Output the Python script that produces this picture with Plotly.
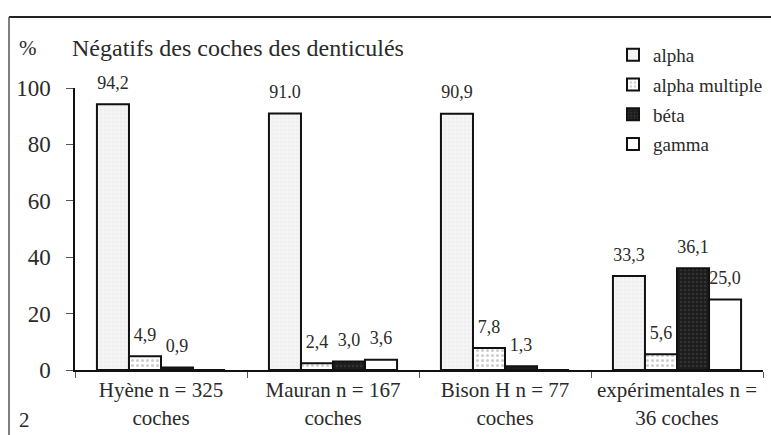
import plotly.graph_objects as go

# Sites / samples (x categories)
categories = [
    "Hyène n = 325<br>coches",
    "Mauran n = 167<br>coches",
    "Bison H n = 77<br>coches",
    "expérimentales n =<br>36 coches",
]

# Percentage of each notch-negative type per sample
alpha = [94.2, 91.0, 90.9, 33.3]
alpha_multiple = [4.9, 2.4, 7.8, 5.6]
beta = [0.9, 3.0, 1.3, 36.1]
gamma = [0.0, 3.6, 0.0, 25.0]

# Value labels printed above the bars
alpha_labels = ["94,2", "91.0", "90,9", "33,3"]
alpha_multiple_labels = ["4,9", "2,4", "7,8", "5,6"]
beta_labels = ["0,9", "3,0", "1,3", "36,1"]
gamma_labels = ["", "3,6", "", "25,0"]

y_ticks = [0, 20, 40, 60, 80, 100]

W, H = 771, 435
M_L, M_R, M_T, M_B = 75, 8, 88, 65
PW = W - M_L - M_R
PH = H - M_T - M_B

SERIF = "Liberation Serif"
INK = "#2a2a2a"


def px_x(x):
    """pixel column -> paper x"""
    return (x - M_L) / PW


def px_y(y):
    """pixel row (from top) -> paper y"""
    return (H - M_B - y) / PH


series = [
    ("alpha", alpha, alpha_labels,
     dict(color="#f4f4f4", pattern=dict(shape=".", fgcolor="#dadada", bgcolor="#f4f4f4", size=4, solidity=0.15))),
    ("alpha multiple", alpha_multiple, alpha_multiple_labels,
     dict(color="#ffffff", pattern=dict(shape=".", fgcolor="#9c9c9c", bgcolor="#ffffff", size=5, solidity=0.3))),
    ("béta", beta, beta_labels,
     dict(color="#1c1c1c", pattern=dict(shape=".", fgcolor="#4a4a4a", bgcolor="#1c1c1c", size=4, solidity=0.3))),
    ("gamma", gamma, gamma_labels,
     dict(color="#ffffff")),
]

fig = go.Figure()
for i, (name, vals, labels, fill) in enumerate(series):
    marker = dict(line=dict(color="#111111", width=2))
    marker.update(fill)
    # the blank, small-font second line lifts each value label a little above its bar
    texts = [f"<span style='font-size:18px'>{t}</span><br> " if t else "" for t in labels]
    fig.add_trace(go.Bar(
        name=name,
        x=categories,
        y=vals,
        text=texts,
        textposition="outside",
        constraintext="none",
        cliponaxis=False,
        textfont=dict(family=SERIF, size=8, color=INK),
        marker=marker,
        legendgroup=f"g{i}",
    ))

fig.update_layout(
    width=W,
    height=H,
    margin=dict(l=M_L, r=M_R, t=M_T, b=M_B, autoexpand=False),
    paper_bgcolor="white",
    plot_bgcolor="white",
    barmode="group",
    bargap=0.255,
    bargroupgap=0,
    font=dict(family=SERIF, color=INK),
    showlegend=True,
    legend=dict(
        x=px_x(613), y=px_y(36),
        xanchor="left", yanchor="top",
        font=dict(family=SERIF, size=19, color=INK),
        tracegroupgap=2,
        bgcolor="rgba(0,0,0,0)",
        itemwidth=30,
    ),
    title=dict(
        text="Négatifs des coches des denticulés",
        font=dict(family=SERIF, size=24, color=INK),
        xref="container", yref="container",
        x=72 / W, y=1 - 48 / H,
        xanchor="left", yanchor="middle",
    ),
    xaxis=dict(
        type="category",
        automargin=False,
        tickangle=0,
        showline=True, linecolor="#111111", linewidth=2,
        ticks="outside", tickson="boundaries", ticklen=6, tickcolor="#555555",
        tickfont=dict(family=SERIF, size=21, color=INK),
        showgrid=False, zeroline=False,
    ),
    yaxis=dict(
        automargin=False,
        range=[0, 100],
        tickvals=y_ticks,
        showline=True, linecolor="#111111", linewidth=1.5,
        ticks="outside", ticklen=7, tickcolor="#555555",
        tickfont=dict(family=SERIF, size=23, color=INK),
        ticklabelstandoff=11,
        showgrid=False, zeroline=False,
    ),
    shapes=[
        # frame: top and left edges
        dict(type="line", xref="paper", yref="paper",
             x0=px_x(9), x1=px_x(W), y0=px_y(17), y1=px_y(17),
             line=dict(color="#222222", width=2)),
        dict(type="line", xref="paper", yref="paper",
             x0=px_x(9), x1=px_x(9), y0=px_y(17), y1=px_y(H),
             line=dict(color="#555555", width=1.5)),
    ],
    annotations=[
        dict(text="%", xref="paper", yref="paper", x=px_x(17), y=px_y(48),
             xanchor="left", yanchor="middle", showarrow=False,
             font=dict(family=SERIF, size=21, color=INK)),
        dict(text="2", xref="paper", yref="paper", x=px_x(17), y=px_y(420),
             xanchor="left", yanchor="middle", showarrow=False,
             font=dict(family=SERIF, size=21, color=INK)),
    ],
)

fig.write_html("out.html")
